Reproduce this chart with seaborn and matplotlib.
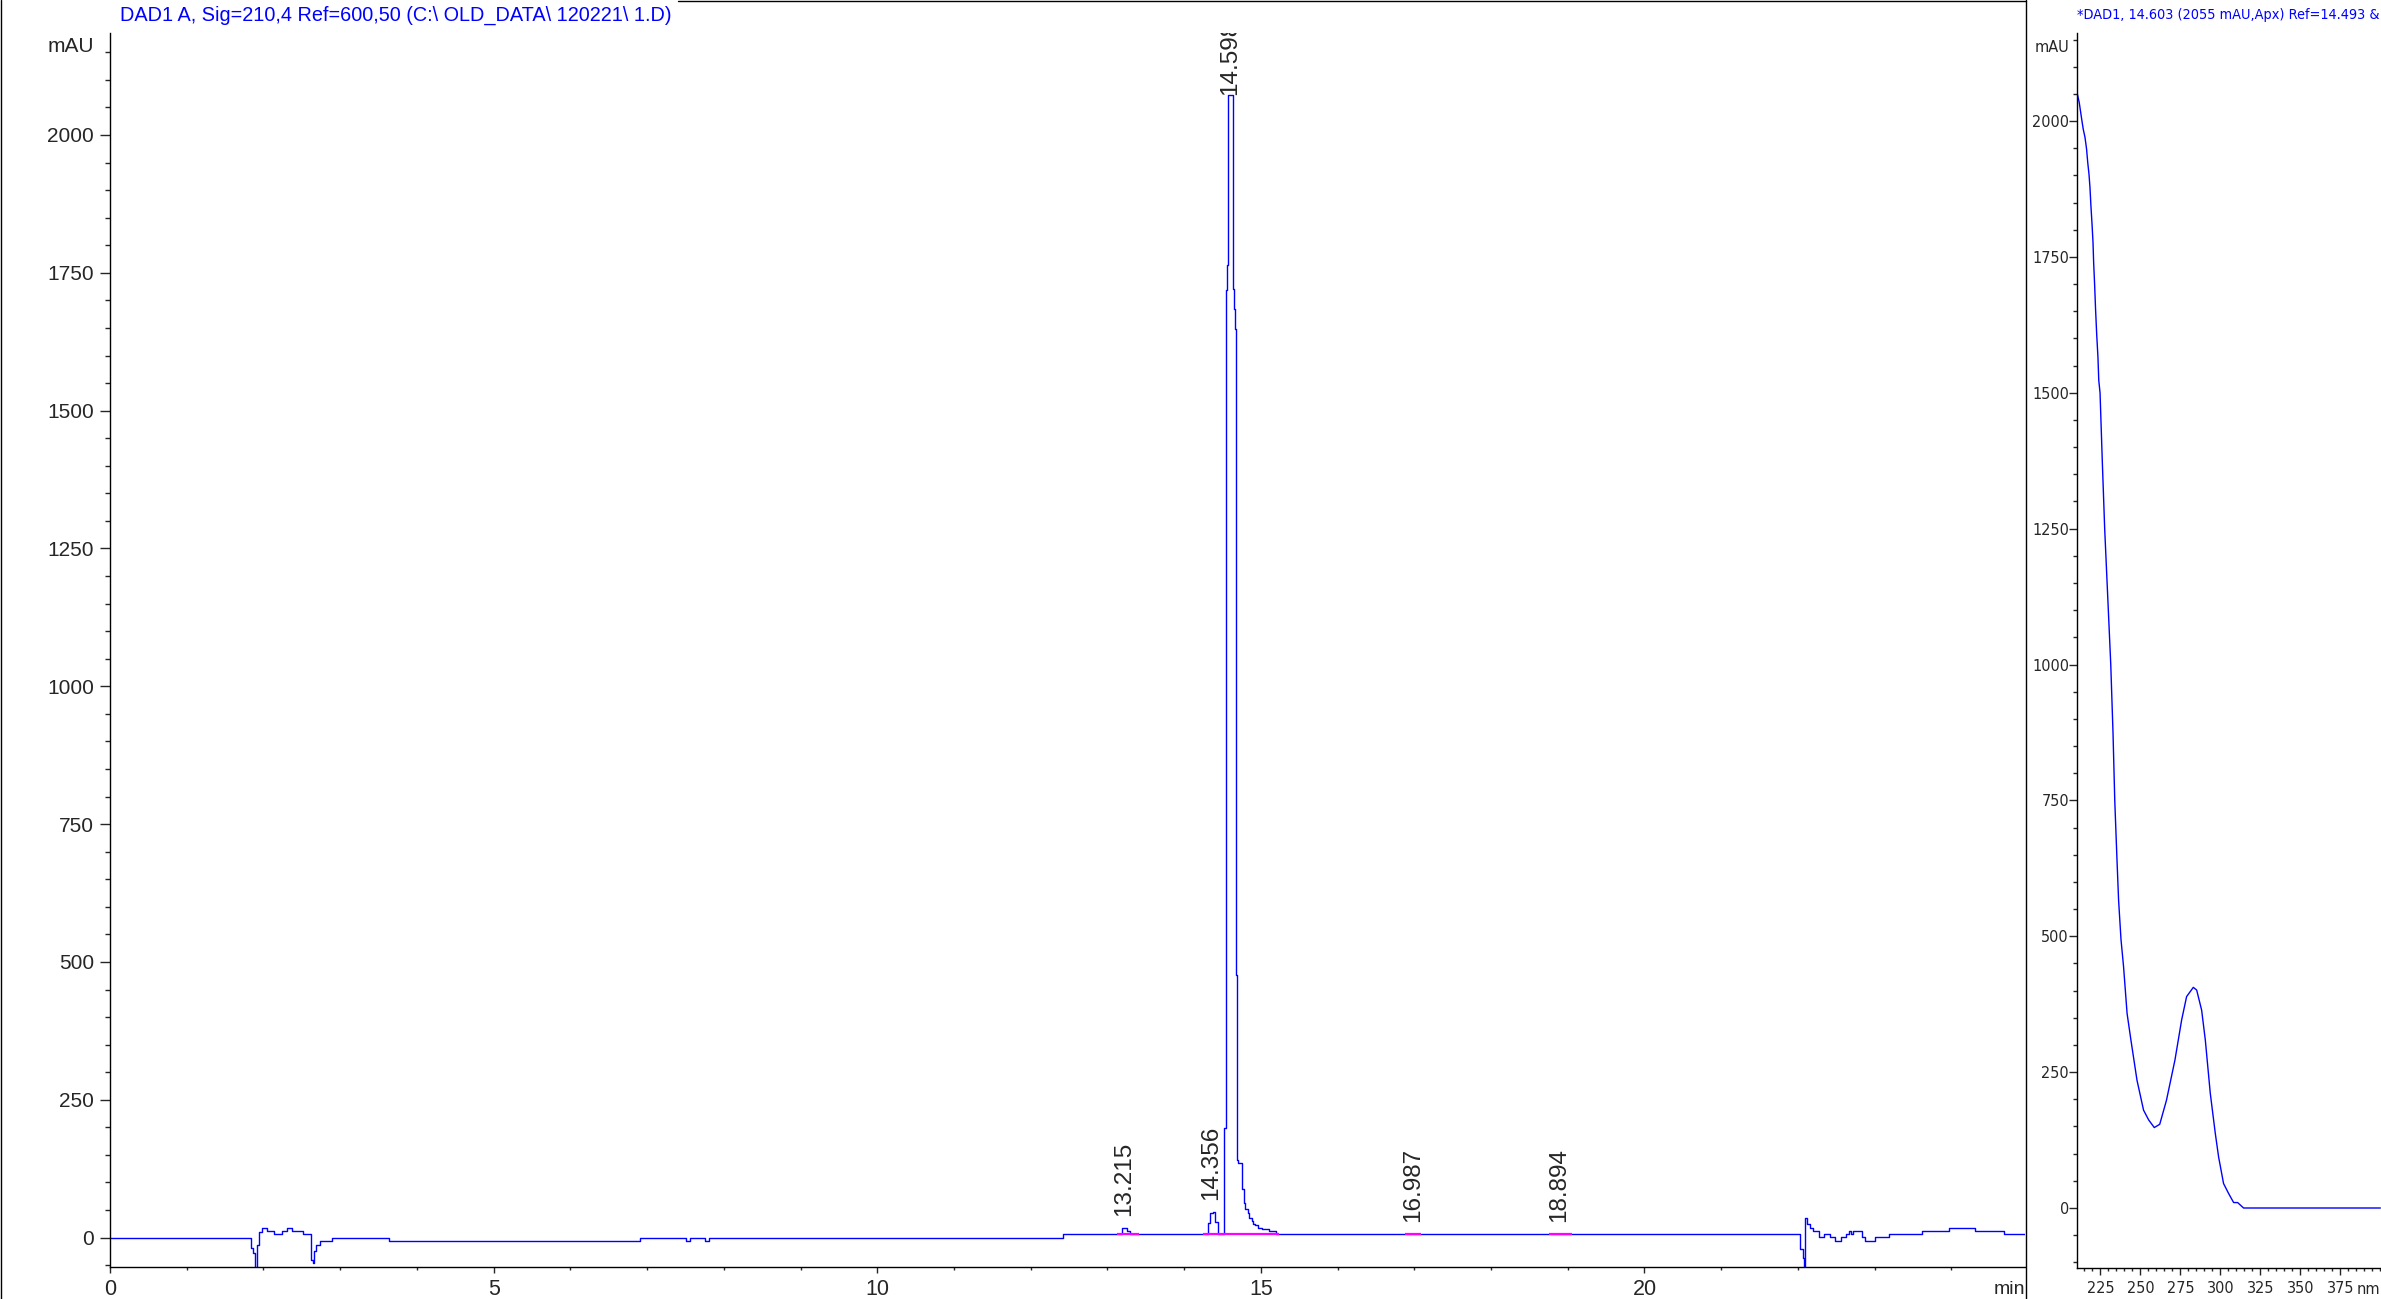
import numpy as np
import pandas as pd
import matplotlib.pyplot as plt
import seaborn as sns
from matplotlib import font_manager
from matplotlib.font_manager import FontProperties
from matplotlib.lines import Line2D
from matplotlib.ticker import MultipleLocator, FixedLocator

# Chromatogramme DAD1 A (signal en escalier, min / mAU)
time_min = [0.0, 1.84, 1.87, 1.89, 1.91, 1.94, 1.98, 2.04, 2.14, 2.24, 2.31, 2.37,
            2.52, 2.62, 2.64, 2.66, 2.69, 2.74, 2.90, 3.64, 6.91, 7.51, 7.56, 7.76,
            7.81, 12.42, 13.19, 13.26, 13.29, 14.31, 14.34, 14.38, 14.40, 14.44,
            14.525, 14.548, 14.558, 14.567, 14.575, 14.632, 14.645, 14.658, 14.672,
            14.685, 14.70, 14.75, 14.78, 14.80, 14.83, 14.85, 14.88, 14.90, 14.93,
            14.96, 15.01, 15.10, 15.20, 22.03, 22.06, 22.08, 22.095, 22.12, 22.16,
            22.20, 22.27, 22.34, 22.42, 22.49, 22.56, 22.63, 22.67, 22.69, 22.72,
            22.84, 22.87, 23.01, 23.19, 23.62, 23.97, 24.31, 24.69, 25.0]
signal_mau = [0, -19.6, -28.5, -90, -14, 10.8, 16.9, 12.6, 6.6, 12, 16.9, 12,
              6.6, -40.5, -46.6, -23.6, -13.4, -6.2, 0, -6.2, 0, -6.2, 0, -6.2,
              0, 6.5, 17, 12, 6.5, 27, 44.6, 47, 29, 6.5,
              199, 1719, 1764, 1800, 2072, 1720, 1684, 1648, 476,
              141, 135, 88, 63, 52, 44, 35, 31, 25, 22,
              17, 15, 12, 6.5, -20, -37, -90, 35, 24.6, 17,
              12, 0.5, 6.5, 0.5, -6, 0.5, 6.5, 12, 6.5, 12,
              0.5, -6, 0.5, 6.5, 12, 17, 12, 6.5, 6.5]

# Pics intégrés
peak_rt = [13.215, 14.356, 14.598, 16.987, 18.894]
peak_top = [17, 47, 2072, 6.5, 6.5]
base_start = [13.13, 14.24, 14.50, 16.88, 18.76]
base_end = [13.41, 14.50, 15.24, 17.09, 19.05]
base_level = [6.5, 6.5, 6.5, 6.5, 6.5]

# Spectre UV au sommet du pic principal (nm / mAU)
wavelength_nm = [210.0, 210.6, 211.8, 212.7, 213.5, 214.3, 215.4, 216.4, 217.1, 217.9,
                 218.5, 219.1, 219.8, 220.4, 220.8, 221.4, 222.0, 222.7, 223.5, 224.0,
                 224.8, 226.2, 227.7, 229.6, 231.5, 232.9, 234.0, 235.4, 236.4, 237.9,
                 239.5, 241.7, 244.1, 247.9, 252.0, 255.2, 258.7, 262.1, 266.3, 271.6,
                 275.8, 278.9, 283.1, 285.2, 288.3, 290.6, 293.7, 296.8, 298.9, 302.0,
                 305.1, 308.3, 310.8, 314.5, 400.0]
absorb_mau = [2056, 2050, 2034, 2016, 2000, 1985, 1970, 1948, 1924, 1902,
              1878, 1844, 1810, 1777, 1740, 1700, 1654, 1608, 1565, 1523,
              1500, 1375, 1250, 1125, 1000, 875, 750, 640, 566, 494,
              444, 358, 309, 235, 180, 162, 148, 154, 198, 272,
              346, 389, 406, 401, 364, 309, 211, 138, 94, 45,
              27, 10, 10, 0, 0]

title_main = "DAD1 A, Sig=210,4 Ref=600,50 (C:\\ OLD_DATA\\ 120221\\ 1.D)"
title_spec = "*DAD1, 14.603 (2055 mAU,Apx) Ref=14.493 & 15.213 of 1.D"

sns.set_style("white")
plt.rcParams['font.family'] = ['Liberation Sans', 'DejaVu Sans']

# police étroite pour le panneau du spectre (si disponible)
cond = None
for f in font_manager.fontManager.ttflist:
    n = f.name
    narrowish = ('Narrow' in n or 'Condensed' in n
                 or f.stretch in ('condensed', 'semi-condensed', 'extra-condensed'))
    if (narrowish and 'Mono' not in n and 'Serif' not in n and f.style == 'normal'
            and str(f.weight) in ('400', 'normal', 'regular', 'book')):
        cond = f
        break
if cond is not None:
    narrow_fp = FontProperties(fname=cond.fname)
else:
    narrow_fp = FontProperties(family='Liberation Sans')

W, H, DPI = 2381, 1299, 100
BLUE = '#0000ff'
fig = plt.figure(figsize=(W / DPI, H / DPI), dpi=DPI)
renderer = fig.canvas.get_renderer()


def box(left, top, right, bottom):
    return [left / W, 1 - bottom / H, (right - left) / W, (bottom - top) / H]


def fit_size(text, fp, target_px, base=20):
    p = fp.copy()
    p.set_size(base)
    t = fig.text(0, 0, text, fontproperties=p)
    w = t.get_window_extent(renderer).width
    t.remove()
    return base * target_px / w


def with_size(fp, size):
    p = fp.copy()
    p.set_size(size)
    return p


small = min(fit_size("2000", narrow_fp, 37), 14)
small_fp = with_size(narrow_fp, small)

ax = fig.add_axes(box(110, 33, 2025, 1267))
ax2 = fig.add_axes(box(2077, 33, 2381, 1268))

# --- chromatogramme ---
chrom = pd.DataFrame({"time": time_min, "signal": signal_mau})
sns.lineplot(data=chrom, x="time", y="signal", ax=ax, color=BLUE, lw=1.0,
             drawstyle="steps-post", estimator=None)
ax.hlines(base_level, base_start, base_end, colors='#ff00ff', lw=1.6, zorder=3)

for rt, h in zip(peak_rt, peak_top):
    pad = 0 if h > 1000 else 12
    ax.annotate(f"{rt:.3f}", xy=(rt, h), xytext=(0, pad), textcoords='offset pixels',
                rotation=90, ha='center', va='bottom', fontsize=17.5, clip_on=True)

ax.set_xlim(0, 24.96)
ax.set_ylim(-53.3, 2185)
ax.xaxis.set_major_locator(MultipleLocator(5))
ax.xaxis.set_minor_locator(MultipleLocator(1))
ax.yaxis.set_major_locator(MultipleLocator(250))
ax.yaxis.set_minor_locator(MultipleLocator(50))
ax.set_xlabel("")
ax.set_ylabel("")
ax.tick_params(axis='y', which='major', direction='out', length=7.2, width=1, pad=4.3,
               labelsize=15, left=True)
ax.tick_params(axis='y', which='minor', direction='out', length=3.6, width=1, left=True)
ax.tick_params(axis='x', which='major', direction='out', length=4.3, width=1, pad=4.3,
               labelsize=15.5, bottom=True)
ax.tick_params(axis='x', which='minor', direction='out', length=2.2, width=1, bottom=True)
sns.despine(ax=ax)
for s in ['left', 'bottom']:
    ax.spines[s].set_color('black')
    ax.spines[s].set_linewidth(1.0)

# --- spectre ---
spec = pd.DataFrame({"nm": wavelength_nm, "mAU": absorb_mau})
sns.lineplot(data=spec, x="nm", y="mAU", ax=ax2, color=BLUE, lw=1.0, estimator=None)
ax2.set_xlim(210.4, 400.4)
ax2.set_ylim(-110.4, 2162)
ax2.xaxis.set_major_locator(FixedLocator(list(range(225, 400, 25))))
ax2.xaxis.set_minor_locator(MultipleLocator(5))
ax2.yaxis.set_major_locator(MultipleLocator(250))
ax2.yaxis.set_minor_locator(MultipleLocator(50))
ax2.set_xlabel("")
ax2.set_ylabel("")
ax2.tick_params(axis='y', which='major', direction='out', length=5.5, width=1, pad=0.3,
                left=True)
ax2.tick_params(axis='y', which='minor', direction='out', length=2.9, width=1, left=True)
ax2.tick_params(axis='x', which='major', direction='out', length=5.0, width=1, pad=4.7,
                bottom=True)
ax2.tick_params(axis='x', which='minor', direction='out', length=2.5, width=1, bottom=True)
for lbl in ax2.get_xticklabels() + ax2.get_yticklabels():
    lbl.set_fontproperties(small_fp)
sns.despine(ax=ax2)
for s in ['left', 'bottom']:
    ax2.spines[s].set_color('black')
    ax2.spines[s].set_linewidth(1.0)

# --- textes ---
fig.text(120 / W, 1 - 15 / H, title_main, color=BLUE, ha='left', va='center',
         fontsize=fit_size(title_main, FontProperties(family='Liberation Sans'), 553))
fig.text(94 / W, 1 - 47 / H, "mAU", ha='right', va='center', fontsize=15)
fig.text(2025 / W, 1 - 1290 / H, "min", ha='right', va='center', fontsize=14)

vis = "*DAD1, 14.603 (2055 mAU,Apx) Ref=14.493 & 15.2"
fig.text(2077 / W, 1 - 15 / H, title_spec, color=BLUE, ha='left', va='center',
         fontproperties=with_size(narrow_fp, 1.1 * fit_size(vis, narrow_fp, 304)))
fig.text(2069 / W, 1 - 47 / H, "mAU", ha='right', va='center', fontproperties=small_fp)
fig.text(2380 / W, 1 - 1290 / H, "nm", ha='right', va='center', fontproperties=small_fp)

# cadre
fig.add_artist(Line2D([0.6 / W, 0.6 / W], [0, 1], color='black', lw=1.0, transform=fig.transFigure))
fig.add_artist(Line2D([2026 / W, 2026 / W], [0, 1], color='black', lw=1.0, transform=fig.transFigure))
fig.add_artist(Line2D([678 / W, 2026 / W], [1 - 0.6 / H, 1 - 0.6 / H], color='black', lw=1.0,
                      transform=fig.transFigure))

fig.savefig("out.png", dpi=DPI)
